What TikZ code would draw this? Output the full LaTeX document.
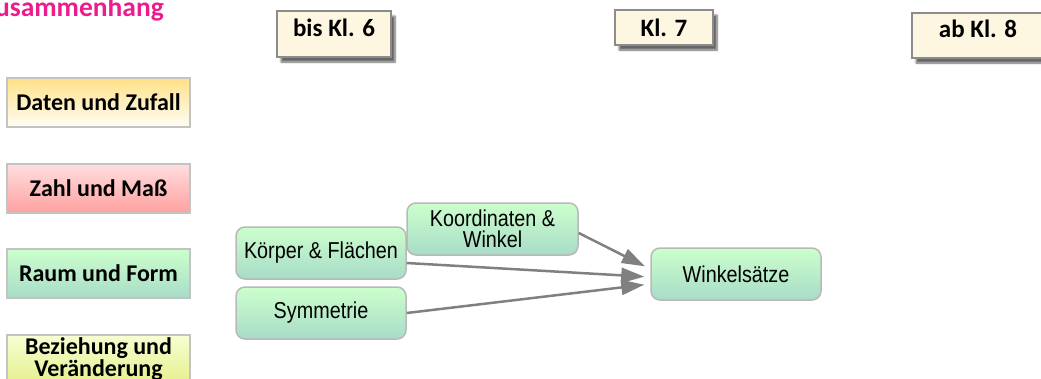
\documentclass[tikz,border=0pt]{standalone}
\usepackage{fontspec}
\setmainfont{Carlito}
\newfontfamily\nodefont[FakeStretch=0.86]{Liberation Sans}
\usetikzlibrary{shadows.blur,arrows.meta}
\definecolor{pinktitle}{RGB}{236,28,140}
\definecolor{catline}{RGB}{195,195,195}
\definecolor{headfill}{RGB}{253,246,224}
\definecolor{headline}{RGB}{140,140,140}
\definecolor{tgtop}{RGB}{204,255,204}
\definecolor{tgbot}{RGB}{168,220,200}
\definecolor{topicline}{RGB}{185,185,185}
\definecolor{arrowgray}{RGB}{128,128,128}
\definecolor{dztop}{RGB}{255,225,135}
\definecolor{dzbot}{RGB}{255,253,245}
\definecolor{zmtop}{RGB}{255,222,222}
\definecolor{zmbot}{RGB}{255,160,160}
\definecolor{bvtop}{RGB}{245,255,210}
\definecolor{bvbot}{RGB}{230,240,140}
\begin{document}
\begin{tikzpicture}[x=1pt,y=-1pt,
  cat/.style={draw=catline, line width=1.2pt, minimum width=183pt, minimum height=49pt, inner sep=0pt, font=\fontsize{24}{18}\selectfont\bfseries, align=center},
  head/.style={draw=headline, fill=headfill, line width=1.2pt, inner sep=0pt, font=\fontsize{25}{28}\selectfont\bfseries, blur shadow={shadow xshift=4pt, shadow yshift=-5pt, shadow blur steps=6, shadow opacity=60}},
  topic/.style={draw=topicline, line width=1.5pt, rounded corners=9pt, top color=tgtop, bottom color=tgbot, inner sep=0pt, minimum width=170pt, minimum height=52pt, font=\nodefont\fontsize{23}{21}\selectfont, align=center},
  conn/.style={draw=arrowgray, line width=2.5pt, -{Triangle[length=23pt,width=15pt]}, shorten >=6pt}
]
\useasboundingbox (0,0) rectangle (1041,378);
\clip (0,0) rectangle (1041,378);
\node[anchor=base east, text=pinktitle, font=\fontsize{27.5}{30}\selectfont\bfseries, inner sep=0pt] (title) at (164,16.5) {Zusammenhang};
% headers
\node[head, minimum width=114pt, minimum height=46pt, text height=16pt, text depth=12pt] (h6) at (334,34) {bis Kl. 6};
\node[head, minimum width=98pt, minimum height=35pt, text height=17pt, text depth=0pt] (h7) at (664,27.5) {Kl. 7};
\node[head, minimum width=132pt, minimum height=45pt, text height=16pt, text depth=13pt] (h8) at (978,35.5) {ab Kl. 8};
% categories
\node[cat, top color=dztop, bottom color=dzbot] (dz) at (98.5,102.5) {Daten und Zufall};
\node[cat, top color=zmtop, bottom color=zmbot] (zm) at (98.5,188.5) {Zahl und Maß};
\node[cat, top color=tgtop, bottom color=tgbot] (rf) at (98.5,273.5) {Raum und Form};
\node[cat, top color=bvtop, bottom color=bvbot] (bv) at (98.5,359.5) {Beziehung und\\Veränderung};
% topics
\node[topic] (kf) at (321,253) {Körper \& Flächen};
\node[topic] (sy) at (321,313) {Symmetrie};
\node[topic, minimum width=171pt] (ko) at (492.5,229) {Koordinaten \&\\Winkel};
\node[topic] (ws) at (736,274) {Winkelsätze};
% connectors
\draw[conn] ([yshift=-4pt]ko.east) -- ([yshift=5pt]ws.west);
\draw[conn] ([yshift=-10pt]kf.east) -- ([yshift=-3pt]ws.west);
\draw[conn] (sy.east) -- ([yshift=-10pt]ws.west);
\end{tikzpicture}
\end{document}
